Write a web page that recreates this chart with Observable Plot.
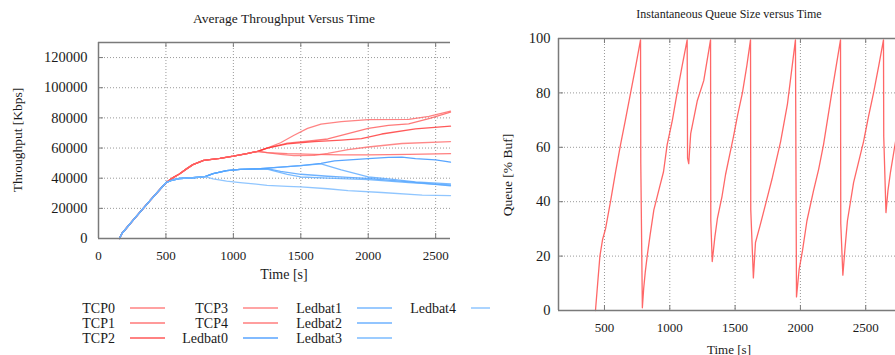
<!DOCTYPE html>
<html><head><meta charset="utf-8">
<script src="https://cdn.jsdelivr.net/npm/d3@7"></script>
<script src="https://cdn.jsdelivr.net/npm/@observablehq/plot@0.6"></script>
<style>
body{margin:0;background:#fff;}
#wrap{position:relative;width:895px;height:355px;overflow:hidden;background:#fff;font-family:"Liberation Serif","Times New Roman",serif;color:#1a1a1a;}
.abs{position:absolute;white-space:nowrap;transform:translate(-50%,-50%);line-height:1;}
.rot{transform:translate(-50%,-50%) rotate(-90deg);}
svg.p{position:absolute;top:0;}
svg.p text{font-family:"Liberation Serif","Times New Roman",serif !important;}
</style></head><body><div id="wrap"></div>
<script>
// ---------- Left chart: tick values ----------
const xTicksLeft = [0, 500, 1000, 1500, 2000, 2500];
const yTicksLeft = [0, 20000, 40000, 60000, 80000, 100000, 120000];
const xDomainLeft = [0, 2610];
const yDomainLeft = [0, 130000];

// ---------- Left chart: series (time [s], throughput [Kbps]) ----------
const startSeg = [[155,0],[175,3500],[260,12500],[380,25000],[500,37000]];
const tcpSeg = [[550,40200],[600,42800],[650,46000],[700,49000],[780,51800],[900,53200],[1000,54600],[1100,56300],[1180,57800]];
const ledSeg = [[550,38800],[600,39800],[700,40300],[790,41000]];

const TCP0 = [[1250,60000],[1350,63500],[1450,68500],[1550,73000],[1650,75800],[1800,77500],[2000,78900],[2300,79000],[2450,81000],[2610,84500]];
const TCP1 = [[1250,60000],[1400,63200],[1550,64500],[1700,66000],[1850,69500],[2000,73000],[2150,75000],[2300,76000],[2450,79500],[2610,83800]];
const TCP2 = [[1250,60000],[1400,62800],[1600,64200],[1800,65300],[1950,66200],[2100,69300],[2350,72700],[2610,74500]];
const TCP3 = [[1250,57000],[1350,55800],[1450,55000],[1600,55200],[1700,56500],[1850,59000],[2000,60700],[2250,63000],[2610,64300]];
const TCP4 = [[1250,57000],[1400,56300],[1600,55800],[1800,55500],[2000,55400],[2300,55800],[2610,56300]];

const Ledbat0 = [[850,43000],[950,45000],[1050,45800],[1200,46300],[1350,47300],[1500,48400],[1650,49800],[1750,51500],[2000,53000],[2150,53800],[2250,54000],[2350,53000],[2500,52200],[2610,50600]];
const Ledbat1 = [[850,43000],[950,45000],[1050,45800],[1200,46300],[1350,47300],[1500,48400],[1650,49500],[1800,45500],[2000,40800],[2150,39500],[2350,37500],[2610,36200]];
const Ledbat2 = [[850,43000],[950,45000],[1050,45800],[1250,46300],[1350,44500],[1500,42600],[1700,41300],[1850,40600],[2000,39800],[2300,37500],[2610,35000]];
const Ledbat3 = [[850,43000],[950,45000],[1050,45800],[1250,46000],[1400,42500],[1500,40800],[1700,40000],[2000,39000],[2300,37000],[2610,35500]];
const Ledbat4 = [[850,39500],[950,38000],[1050,37000],[1150,36200],[1250,35200],[1400,34600],[1500,34300],[1700,33000],[1850,31800],[2100,30500],[2400,28800],[2610,28500]];

const seriesNames = ["TCP0","TCP1","TCP2","TCP3","TCP4","Ledbat0","Ledbat1","Ledbat2","Ledbat3","Ledbat4"];
const seriesColors = ["#ff6464","#ff5858","#ff3030","#ff6a6a","#ff5e5e","#2f8fff","#58a8ff","#4a9fff","#5aaaff","#74b8ff"];
const seriesData = [
  [...startSeg, ...tcpSeg, ...TCP0],
  [...startSeg, ...tcpSeg, ...TCP1],
  [...startSeg, ...tcpSeg, ...TCP2],
  [...startSeg, ...tcpSeg, ...TCP3],
  [...startSeg, ...tcpSeg, ...TCP4],
  [...startSeg, ...ledSeg, ...Ledbat0],
  [...startSeg, ...ledSeg, ...Ledbat1],
  [...startSeg, ...ledSeg, ...Ledbat2],
  [...startSeg, ...ledSeg, ...Ledbat3],
  [...startSeg, ...ledSeg, ...Ledbat4]
];

// ---------- Right chart ----------
const xTicksRight = [500, 1000, 1500, 2000, 2500];
const yTicksRight = [0, 20, 40, 60, 80, 100];
const xDomainRight = [148, 2728];
const yDomainRight = [0, 100];
const queueT = [431,448,465,485,508,546,585,623,660,700,740,776,
  778,790,800,812,827,850,878,920,952,980,1020,1056,1095,1133,
  1136,1145,1160,1210,1260,1312,
  1314,1325,1345,1365,1400,1427,1462,1488,1520,1556,1590,1618,
  1620,1640,1656,1690,1733,1786,1848,1901,1962,
  1970,1990,2016,2050,2100,2140,2177,2240,2307,
  2309,2325,2340,2360,2407,2483,2520,2560,2600,2636,
  2638,2655,2670,2690,2728,2740];
const queueV = [0,10,20,26,30,40,51,61,70,80,90,99.5,
  54,1,8,14,20,28,37,45,51,61,70,80,90,99.5,
  56,54,65,77,84.5,99.5,
  33,18,27,34,42,50,58,64,72,80,90,99.5,
  37,12,25,31,39,49,62,76,99.5,
  5,15,22,33,44,52,61,80,99.5,
  32,13,22,33,47,62,71,80,90,99.5,
  64,36,44,51,62,65];

const wrap = document.getElementById("wrap");
const fam = '"Liberation Serif","Times New Roman",serif';
const gridStyle = {stroke:"#999", strokeOpacity:1, strokeWidth:1, strokeDasharray:"1,2"};
const borderStroke = "#7a7a7a";
const plain = d => String(d);

// ---- left plot ----
const rows = [];
seriesNames.forEach((n,i)=>seriesData[i].forEach(([t,v])=>rows.push({name:n,t,v})));
const LW = 450, LH = 262, LML = 98, LMT = 42, LMB = 24;
const lpw = LW - LML, lph = LH - LMT - LMB;
const left = Plot.plot({
  width: LW, height: LH,
  marginLeft: LML, marginRight: 0, marginTop: LMT, marginBottom: LMB,
  style: {fontFamily: fam, background: "transparent", color: "#1a1a1a", overflow: "visible"},
  x: {domain: xDomainLeft},
  y: {domain: yDomainLeft},
  color: {domain: seriesNames, range: seriesColors},
  marks: [
    Plot.gridX(xTicksLeft.slice(1), gridStyle),
    Plot.gridY(yTicksLeft.slice(1), gridStyle),
    Plot.line(rows, {x:"t", y:"v", z:"name", stroke:"name", strokeWidth:1.3, strokeOpacity:0.8}),
    Plot.ruleY(yDomainLeft, {stroke: borderStroke, strokeWidth: 1.5}),
    Plot.ruleX([xDomainLeft[0]], {stroke: borderStroke, strokeWidth: 1.5}),
    Plot.ruleX(xTicksLeft, {stroke: borderStroke, insetTop: lph - 5}),
    Plot.ruleX(xTicksLeft, {stroke: borderStroke, insetBottom: lph - 5}),
    Plot.ruleY(yTicksLeft, {stroke: borderStroke, insetRight: lpw - 5}),
    Plot.axisX(xTicksLeft, {tickSize: 0, tickPadding: 12, fontSize: 13, fontFamily: fam, label: null, tickFormat: plain}),
    Plot.axisY(yTicksLeft, {tickSize: 0, tickPadding: 11, fontSize: 14.5, fontFamily: fam, label: null, tickFormat: plain})
  ]
});
left.classList.add("p");
left.style.left = "0px";
wrap.appendChild(left);

// ---- legend ----
const ns = "http://www.w3.org/2000/svg";
const leg = document.createElementNS(ns, "svg");
leg.setAttribute("width", 895); leg.setAttribute("height", 355);
leg.style.position = "absolute"; leg.style.left = "0px"; leg.style.top = "0px";
const colTextEnd = [115, 228, 342, 456];
const rowY = [308, 323, 338];
seriesNames.forEach((n, i) => {
  const c = Math.floor(i / 3), r = i % 3;
  const t = document.createElementNS(ns, "text");
  t.setAttribute("x", colTextEnd[c]); t.setAttribute("y", rowY[r]);
  t.setAttribute("text-anchor", "end"); t.setAttribute("dy", "0.33em");
  t.setAttribute("font-family", fam); t.setAttribute("font-size", "14");
  t.setAttribute("fill", "#1a1a1a");
  t.textContent = n;
  leg.appendChild(t);
  const l = document.createElementNS(ns, "line");
  l.setAttribute("x1", colTextEnd[c] + 15); l.setAttribute("x2", colTextEnd[c] + 50);
  l.setAttribute("y1", rowY[r]); l.setAttribute("y2", rowY[r]);
  l.setAttribute("stroke", seriesColors[i]); l.setAttribute("stroke-width", 1.5);
  l.setAttribute("stroke-opacity", 0.8);
  leg.appendChild(l);
});
wrap.appendChild(leg);

// ---- right plot ----
const qrows = queueT.map((t, i) => ({t, v: queueV[i]}));
const RW = 405, RH = 335, RML = 68, RMT = 38, RMB = 25;
const rpw = RW - RML, rph = RH - RMT - RMB;
const right = Plot.plot({
  width: RW, height: RH,
  marginLeft: RML, marginRight: 0, marginTop: RMT, marginBottom: RMB,
  style: {fontFamily: fam, background: "#fff", color: "#1a1a1a", overflow: "hidden"},
  x: {domain: xDomainRight},
  y: {domain: yDomainRight},
  marks: [
    Plot.gridX(xTicksRight, gridStyle),
    Plot.gridY(yTicksRight.slice(1, -1), gridStyle),
    Plot.line(qrows, {x:"t", y:"v", stroke:"#ff4c4c", strokeWidth:1.3, strokeOpacity:0.85}),
    Plot.ruleY(yDomainRight, {stroke: borderStroke, strokeWidth: 1.5}),
    Plot.ruleX([xDomainRight[0]], {stroke: borderStroke, strokeWidth: 1.5}),
    Plot.ruleX(xTicksRight, {stroke: borderStroke, insetTop: rph - 5}),
    Plot.ruleX(xTicksRight, {stroke: borderStroke, insetBottom: rph - 5}),
    Plot.ruleY(yTicksRight, {stroke: borderStroke, insetRight: rpw - 5}),
    Plot.axisX(xTicksRight, {tickSize: 0, tickPadding: 12, fontSize: 13, fontFamily: fam, label: null, tickFormat: plain}),
    Plot.axisY(yTicksRight, {tickSize: 0, tickPadding: 8, fontSize: 14.5, fontFamily: fam, label: null, tickFormat: plain})
  ]
});
right.classList.add("p");
right.style.left = "490px";
wrap.appendChild(right);

// ---- titles and axis labels ----
function label(text, x, y, size, rot) {
  const d = document.createElement("div");
  d.className = "abs" + (rot ? " rot" : "");
  d.style.left = x + "px"; d.style.top = y + "px"; d.style.fontSize = size + "px";
  d.textContent = text;
  wrap.appendChild(d);
}
label("Average Throughput Versus Time", 284, 19, 13.5);
label("Time [s]", 284, 275, 14);
label("Throughput [Kbps]", 18, 140, 13.5, true);
label("Instantaneous Queue Size versus Time", 729, 14, 12);
label("Time [s]", 729, 349, 13);
label("Queue [% Buf]", 508, 175, 13.5, true);
</script></body></html>
